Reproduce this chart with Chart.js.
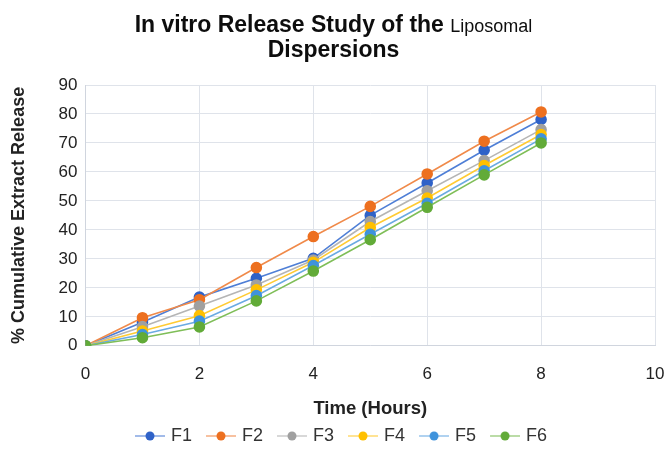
<!DOCTYPE html>
<html>
<head>
<meta charset="utf-8">
<script src="https://cdn.jsdelivr.net/npm/chart.js@4.4.1/dist/chart.umd.min.js"></script>
<style>
  html, body { margin: 0; padding: 0; background: #fff; }
  #wrap { position: relative; width: 667px; height: 461px; }
  #title {
    position: absolute; left: 0; top: 13px; width: 667px;
    text-align: center; font-family: "Liberation Sans", Arial, sans-serif;
    font-weight: bold; font-size: 23px; line-height: 23px; color: #0d0d0d;
  }
  #title .small { font-weight: normal; font-size: 18px; }
  canvas { position: absolute; left: 0; top: 0; }
</style>
</head>
<body>
<div id="wrap">
  <canvas id="myChart" width="667" height="461"></canvas>
  <div id="title">In vitro Release Study of the <span class="small">Liposomal</span><br>Dispersions</div>
</div>
<script>
// time points (hours)
var hours = [0, 1, 2, 3, 4, 5, 6, 7, 8];

// % cumulative release per formulation
var F1 = [0, 8.1, 16.8, 23.3, 30.2, 45.0, 56.2, 67.5, 78.1];
var F2 = [0, 9.7, 15.9, 27.0, 37.7, 48.1, 59.3, 70.6, 80.7];
var F3 = [0, 6.6, 13.7, 21.0, 29.6, 42.9, 53.5, 63.9, 74.6];
var F4 = [0, 5.1, 10.4, 19.3, 28.8, 40.8, 51.0, 62.2, 72.9];
var F5 = [0, 3.9, 8.5, 17.3, 27.7, 38.5, 49.2, 60.4, 71.4];
var F6 = [0, 2.8, 6.5, 15.5, 25.8, 36.6, 47.8, 59.0, 70.0];

var names = ["F1", "F2", "F3", "F4", "F5", "F6"];
var seriesValues = [F1, F2, F3, F4, F5, F6];
var dotColors = ["#2f62c8", "#ed7020", "#a0a0a0", "#ffc000", "#3f93dc", "#62ab38"];
var lineColors = ["#4f7fd6", "#f08a4a", "#b5b5b5", "#ffcb33", "#6aaae2", "#7fbe58"];

// line-with-dot icon for the legend; the mark sits at the right of the
// canvas so the text follows it closely
function legendIcon(lineColor, dotColor) {
  var c = document.createElement("canvas");
  c.width = 40;
  c.height = 12;
  var g = c.getContext("2d");
  g.strokeStyle = lineColor;
  g.globalAlpha = 0.7;
  g.lineWidth = 1.5;
  g.beginPath();
  g.moveTo(10, 6);
  g.lineTo(40, 6);
  g.stroke();
  g.globalAlpha = 1;
  g.fillStyle = dotColor;
  g.beginPath();
  g.arc(25, 6, 4.5, 0, Math.PI * 2);
  g.fill();
  return c;
}

var datasets = [];
for (var i = 0; i < names.length; i++) {
  var pts = hours.map(function (h, k) {
    return { x: h, y: seriesValues[i][k] };
  });
  datasets.push({
    label: names[i],
    data: pts,
    borderColor: lineColors[i],
    backgroundColor: dotColors[i],
    pointBackgroundColor: dotColors[i],
    pointBorderColor: dotColors[i],
    pointRadius: 5,
    pointStyle: "circle",
    borderWidth: 1.6,
    tension: 0,
    // later series go on top
    order: names.length - i,
    legendIcon: legendIcon(lineColors[i], dotColors[i]),
  });
}

var tickFont = { family: "'Liberation Sans', Arial, sans-serif", size: 17, lineHeight: 1.0 };
var ctx = document.getElementById("myChart").getContext("2d");

const myChart = new Chart(ctx, {
  type: "line",
  data: { datasets: datasets },
  options: {
    responsive: false,
    animation: false,
    layout: { padding: { top: 85, right: 0, left: 8, bottom: 6 } },
    plugins: {
      title: { display: false },
      tooltip: { enabled: false },
      legend: {
        position: "bottom",
        labels: {
          usePointStyle: true,
          pointStyleWidth: 34,
          padding: 7,
          color: "#333",
          font: { family: "'Liberation Sans', Arial, sans-serif", size: 18 },
          sort: function (a, b) { return a.datasetIndex - b.datasetIndex; },
          generateLabels: function (chart) {
            return chart.data.datasets.map(function (d, i) {
              return {
                text: d.label,
                pointStyle: d.legendIcon,
                fillStyle: d.backgroundColor,
                strokeStyle: d.borderColor,
                lineWidth: 0,
                fontColor: "#333",
                hidden: false,
                datasetIndex: i,
              };
            });
          },
        },
      },
    },
    scales: {
      x: {
        type: "linear",
        min: 0,
        max: 10,
        ticks: { stepSize: 2, color: "#222", font: tickFont, padding: 20 },
        grid: { color: "#dfe3ea", drawTicks: false },
        border: { color: "#d0d5de" },
        title: {
          display: true,
          text: "Time (Hours)",
          color: "#222",
          font: { family: "'Liberation Sans', Arial, sans-serif", size: 18.5, weight: "bold" },
          padding: { top: 0, bottom: 0 },
        },
        // keep only room for half of the last label on the right,
        // and pull the axis title a little closer to the ticks
        afterFit: function (scale) {
          scale.paddingRight = 12;
          scale.height -= 5;
        },
      },
      y: {
        min: 0,
        max: 90,
        ticks: { stepSize: 10, color: "#222", font: tickFont, padding: 8 },
        grid: { color: "#dfe3ea", drawTicks: false },
        border: { color: "#d0d5de" },
        title: {
          display: true,
          text: "% Cumulative Extract Release",
          color: "#222",
          font: { family: "'Liberation Sans', Arial, sans-serif", size: 18, weight: "bold" },
          padding: { top: 0, bottom: 21 },
        },
      },
    },
  },
});
</script>
</body>
</html>
